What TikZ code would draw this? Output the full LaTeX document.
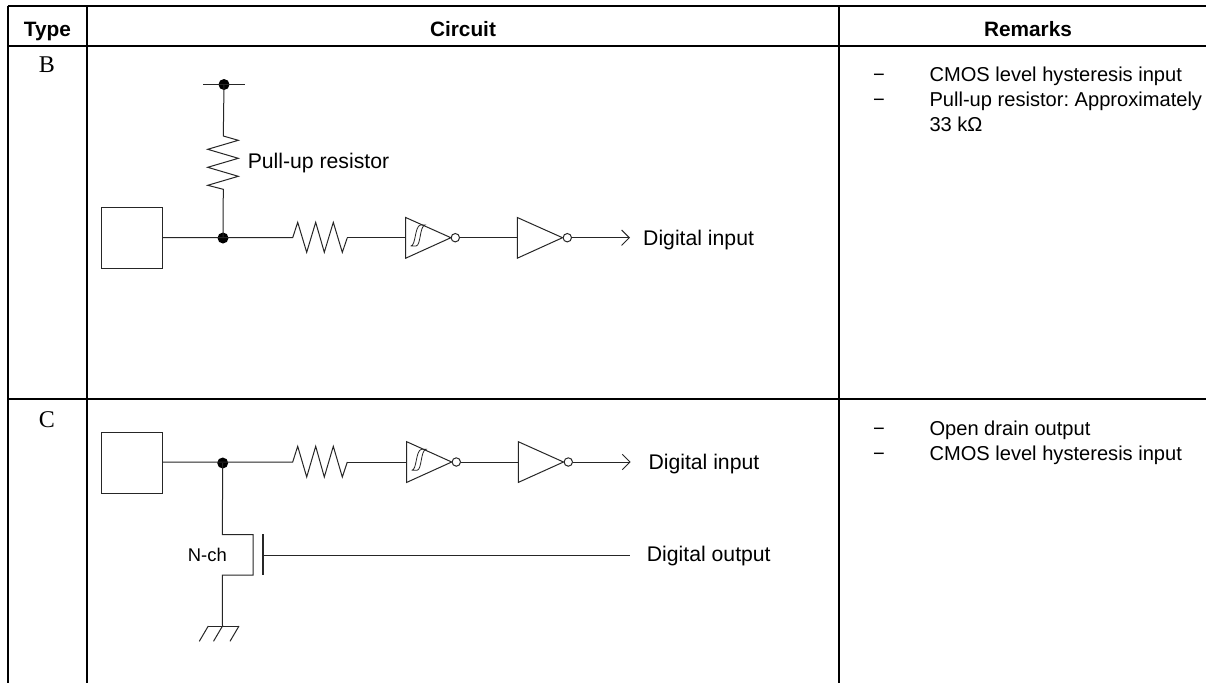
\documentclass[tikz,border=0pt]{standalone}
\usepackage{fontspec}
\setmainfont{Liberation Sans}
\newfontfamily\serifrm{Liberation Serif}
\newcommand{\hyst}[1]{%
  \draw[hyline,shift={(#1)}] (-8.3,8.3) -- (-3,8.3) .. controls (2,7.8) and (0.5,-11.7) .. (6,-12.7) -- (1.5,-12.7)
    .. controls (-4.5,-11.7) and (-3,8.3) .. (-8.3,8.3);}
\tikzset{
  x=1pt,y=-1pt,
  tline/.style={line width=2pt,black},
  wire/.style={line width=1pt,black!85},
  hyline/.style={line width=0.8pt,black!85},
  lbl/.style={inner sep=0pt,anchor=base west,font=\fontsize{21.2}{25}\selectfont},
  head/.style={inner sep=0pt,anchor=base,font=\fontsize{20.8}{25}\selectfont\bfseries},
  tylbl/.style={inner sep=0pt,anchor=base,font=\fontsize{24}{28}\selectfont\serifrm},
  rem/.style={inner sep=0pt,anchor=base west,font=\fontsize{20.1}{24}\selectfont\frenchspacing},
  pad/.style={draw=black!85,line width=1pt,minimum size=61pt,inner sep=0pt},
  jdot/.style={circle,fill=black,inner sep=0pt,minimum size=11pt},
  bub/.style={circle,draw=black!85,line width=1pt,fill=white,inner sep=0pt,minimum size=8.4pt},
  gatetri/.style={wire,fill=white,line join=miter},
}
\begin{document}
\begin{tikzpicture}
\useasboundingbox (0,0) rectangle (1206,683);
\fill[white] (0,0) rectangle (1206,683);
% table
\coordinate (tl) at (7.5,6); \coordinate (tr) at (1206,6);
\coordinate (hl) at (7.5,45.6); \coordinate (hr) at (1206,45.6);
\coordinate (ml) at (7.5,399); \coordinate (mr) at (1206,399);
\coordinate (bl) at (7.5,683);
\coordinate (c1t) at (87,6); \coordinate (c1b) at (87,683);
\coordinate (c2t) at (839,6); \coordinate (c2b) at (839,683);
\draw[tline] (tl) -- (tr) (hl) -- (hr) (ml) -- (mr) (tl) -- (bl) (c1t) -- (c1b) (c2t) -- (c2b);
\node[head] (h1) at (47.5,36.5) {Type};
\node[head] (h2) at (463,36.5) {Circuit};
\node[head] (h3) at (1028,36.5) {Remarks};
\node[tylbl] (tb) at (47,72.5) {B};
\node[tylbl] (tc) at (47,427) {C};
% remarks
\node[rem] (rb0) at (873,81.3) {−}; \node[rem] (rb1) at (929.3,81.3) {CMOS level hysteresis input};
\node[rem] (rb2) at (873,106.5) {−}; \node[rem] (rb3) at (929.3,106.5) {Pull-up resistor: Approximately};
\node[rem] (rb4) at (929.3,131.5) {33 kΩ};
\node[rem] (rc0) at (873,435.3) {−}; \node[rem] (rc1) at (929.3,435.3) {Open drain output};
\node[rem] (rc2) at (873,460) {−}; \node[rem] (rc3) at (929.3,460) {CMOS level hysteresis input};
% circuit B
\node[pad] (padB) at (131.8,238.3) {};
\node[jdot] (jB) at (223,238) {};
\node[jdot] (vB) at (224,84.5) {};
\coordinate (vl) at (203,84.3); \coordinate (vr) at (245,84.3);
\draw[wire] (vl) -- (vr);
\draw[wire] (vB.center) -- (223.3,136) -- (238.3,140.3) -- (207.7,149.3) -- (238.3,158.3) -- (207.7,167.3) -- (238.3,176.3) -- (207.7,185.3) -- (223.3,189.3) -- (jB.center);
\coordinate (rBi) at (292.7,237.7); \coordinate (rBo) at (347.3,237.7);
\draw[wire] (padB.east |- rBi) -- (rBi) -- (297.7,222.3) -- (306.7,252.3) -- (315.7,222.3) -- (324.3,252.3) -- (333.3,222.3) -- (342.3,252.3) -- (rBo);
\coordinate (g1Bi) at (405.7,237.7); \coordinate (g2Bi) at (517.3,237.7); \coordinate (aB) at (629.3,237.7);
\node[bub] (b1B) at (455.3,237.7) {}; \node[bub] (b2B) at (567.3,237.7) {};
\draw[wire] (rBo) -- (g1Bi) (b1B) -- (g2Bi) (b2B) -- (aB);
\draw[gatetri] (405.7,217.5) -- (450.9,237.7) -- (405.7,258.2) -- cycle;
\draw[gatetri] (517.3,217.5) -- (562.5,237.7) -- (517.3,258.2) -- cycle;
\hyst{419,237.7}
\draw[wire,line join=miter] (621.6,230) -- (aB) -- (621.6,245.4);
\node[lbl] (lpu) at (247.6,168.3) {Pull-up resistor};
\node[lbl] (ldiB) at (643,245) {Digital input};
% circuit C
\node[pad] (padC) at (131.8,462.8) {};
\node[jdot] (jC) at (222.7,463) {};
\coordinate (rCi) at (292.7,462); \coordinate (rCo) at (347.3,462);
\draw[wire] (padC.east |- rCi) -- (rCi) -- (297.7,446.3) -- (306.7,477) -- (315.7,446.3) -- (324.3,477) -- (333.3,446.3) -- (342.3,477) -- (rCo);
\coordinate (g1Ci) at (406.7,462); \coordinate (g2Ci) at (518.3,462); \coordinate (aC) at (630,462);
\node[bub] (b1C) at (456.3,462) {}; \node[bub] (b2C) at (568.3,462) {};
\draw[wire] (rCo) -- (g1Ci) (b1C) -- (g2Ci) (b2C) -- (aC);
\draw[gatetri] (406.7,441.7) -- (451.7,462) -- (406.7,482.4) -- cycle;
\draw[gatetri] (518.3,441.7) -- (563.5,462) -- (518.3,482.4) -- cycle;
\hyst{420,462}
\draw[wire,line join=miter] (622.3,454.3) -- (aC) -- (622.3,469.7);
\node[lbl] (ldiC) at (648.3,469.5) {Digital input};
% MOSFET
\coordinate (gt) at (263,534.3); \coordinate (gb) at (263,575.3);
\coordinate (gm) at (263,555.3); \coordinate (gout) at (630,555.3);
\coordinate (gnd) at (222.5,626);
\draw[wire,line join=miter] (jC.center) -- (222.3,534.7) -- (253,534.7) -- (253,575) -- (222.3,575) -- (gnd);
\draw[wire,line width=1.3pt] (gt) -- (gb);
\draw[wire] (gm) -- (gout);
\node[lbl] (ldo) at (646.7,561) {Digital output};
\node[inner sep=0pt,anchor=base west,font=\fontsize{18.4}{22}\selectfont] (nch) at (187.7,561) {N-ch};
\draw[wire] (208.3,626) -- (239,626);
\draw[wire] (208.3,626) -- ++(-9,15.3) (gnd) -- ++(-9,15.3) (239,626) -- ++(-9,15.3);
\end{tikzpicture}
\end{document}
